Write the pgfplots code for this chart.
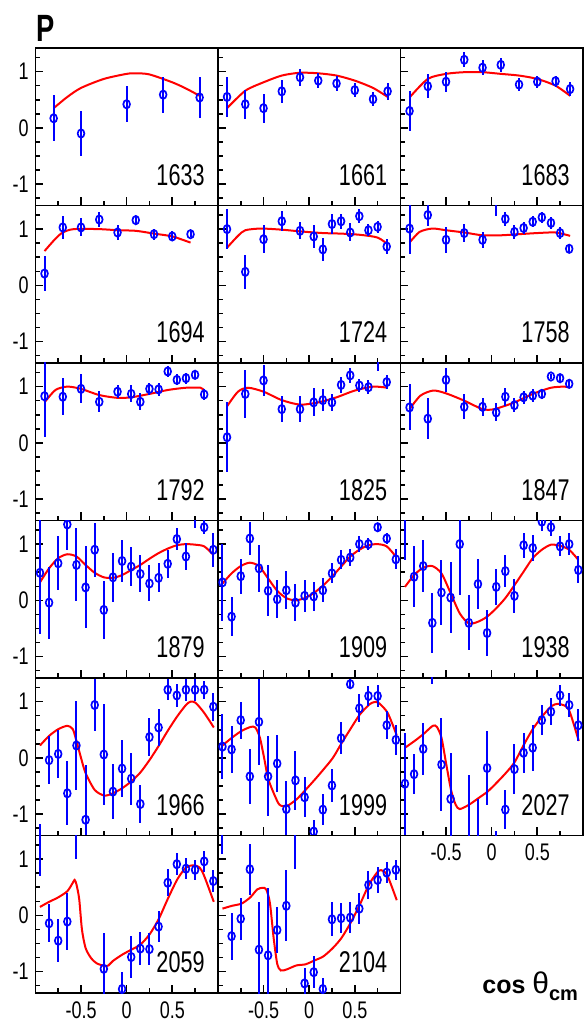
\documentclass[border=0pt]{standalone}
\usepackage{fontspec}
\setmainfont{Liberation Sans}[FakeStretch=0.72]
\newfontfamily\labfont{Liberation Sans}
\newfontfamily\tickfont{Liberation Sans}[FakeStretch=0.75]
\usepackage{pgfplots}
\pgfplotsset{compat=1.18}
\pgfplotsset{
  panel/.style={
    at={#1}, anchor=south west, scale only axis, width=91.25pt, height=78.75pt,
    xmin=-1, xmax=1, ymin=-1.38, ymax=1.42,
    axis line style={line width=0.8pt},
    every tick/.style={line width=0.8pt, black},
    tick align=inside, xtick pos=left, ytick pos=left,
    xtick={-0.5,0,0.5}, minor xtick={-0.75,-0.25,0.25,0.75},
    ytick={-1,0,1}, minor ytick={-1.25,-0.75,-0.5,-0.25,0.25,0.5,0.75,1.25},
    major tick length=4pt, minor tick length=2.4pt,
    xticklabels={}, yticklabels={},
    clip marker paths=true,
    ticklabel style={font=\tickfont\fontsize{12}{12}\selectfont},
    yticklabel style={anchor=east, inner sep=0pt, xshift=-3.2pt},
    xticklabel style={anchor=north, inner sep=0pt, yshift=-4pt},
  },
  ylab/.style={yticklabels={-1,0,1}},
  xlab/.style={xticklabels={-0.5,0,0.5}},
  dat/.style={only marks, blue, mark=o, mark size=2.1pt,
    mark options={solid, fill=white, line width=0.85pt, xscale=0.8},
    error bars/.cd, y dir=both, y explicit, error mark=none,
    error bar style={line width=1pt, blue}},
  fit/.style={red, line width=1pt, smooth, tension=0.45, no marks},
}
\newcommand{\lab}[1]{\node[anchor=base east, inner sep=0pt, font=\fontsize{15}{15}\selectfont] at (rel axis cs:0.929,0.127) {#1};}
\begin{document}
\begin{tikzpicture}
% ---------------- row 1
\begin{axis}[panel={(17.7pt,409.25pt)}, ylab]
\addplot[fit] coordinates {(-0.8,0.35)(-0.65,0.55)(-0.5,0.71)(-0.25,0.87)(0,0.96)(0.1,0.97)(0.25,0.95)(0.5,0.81)(0.65,0.70)(0.8,0.57)};
\addplot[dat] table[x=x,y=y,y error=e,row sep=\\] {x y e\\ -0.8 0.17 0.41\\ -0.5 -0.10 0.40\\ 0.0 0.42 0.32\\ 0.4 0.59 0.32\\ 0.8 0.54 0.36\\};
\lab{1633}
\end{axis}
\begin{axis}[panel={(108.95pt,409.25pt)}]
\addplot[fit] coordinates {(-0.9,0.35)(-0.7,0.66)(-0.5,0.81)(-0.3,0.93)(-0.1,0.98)(0.1,0.97)(0.3,0.93)(0.5,0.84)(0.7,0.71)(0.86,0.55)};
\addplot[dat] table[x=x,y=y,y error=e,row sep=\\] {x y e\\ -0.9 0.55 0.36\\ -0.7 0.42 0.26\\ -0.5 0.35 0.26\\ -0.3 0.65 0.20\\ -0.1 0.90 0.15\\ 0.1 0.84 0.14\\ 0.3 0.79 0.14\\ 0.5 0.67 0.12\\ 0.7 0.51 0.12\\ 0.86 0.65 0.15\\};
\lab{1661}
\end{axis}
\begin{axis}[panel={(200.2pt,409.25pt)}]
\addplot[fit] coordinates {(-0.9,0.54)(-0.7,0.87)(-0.5,0.96)(-0.3,0.99)(-0.1,0.99)(0.1,0.96)(0.3,0.93)(0.5,0.87)(0.7,0.75)(0.86,0.57)};
\addplot[dat] table[x=x,y=y,y error=e,row sep=\\] {x y e\\ -0.9 0.30 0.35\\ -0.7 0.74 0.21\\ -0.5 0.82 0.18\\ -0.3 1.21 0.13\\ -0.1 1.07 0.13\\ 0.1 1.12 0.12\\ 0.3 0.77 0.12\\ 0.5 0.82 0.11\\ 0.7 0.83 0.10\\ 0.86 0.69 0.13\\};
\lab{1683}
\end{axis}
% ---------------- row 2
\begin{axis}[panel={(17.7pt,330.5pt)}, ylab]
\addplot[fit] coordinates {(-0.9,0.61)(-0.78,0.83)(-0.7,0.94)(-0.58,1.0)(-0.3,1.0)(-0.1,0.98)(0.1,0.97)(0.3,0.92)(0.5,0.87)(0.7,0.76)};
\addplot[dat] table[x=x,y=y,y error=e,row sep=\\] {x y e\\ -0.9 0.21 0.31\\ -0.7 1.03 0.20\\ -0.5 1.03 0.16\\ -0.3 1.17 0.13\\ -0.1 0.94 0.13\\ 0.1 1.16 0.08\\ 0.3 0.91 0.10\\ 0.5 0.87 0.09\\ 0.7 0.91 0.05\\};
\lab{1694}
\end{axis}
\begin{axis}[panel={(108.95pt,330.5pt)}]
\addplot[fit] coordinates {(-0.9,0.67)(-0.78,0.88)(-0.7,0.98)(-0.53,1.01)(-0.3,0.99)(-0.1,0.96)(0.15,0.93)(0.35,0.92)(0.55,0.90)(0.75,0.85)(0.86,0.73)};
\addplot[dat] table[x=x,y=y,y error=e,row sep=\\] {x y e\\ -0.9 1.00 0.35\\ -0.7 0.24 0.30\\ -0.5 0.82 0.25\\ -0.3 1.14 0.18\\ -0.1 0.97 0.15\\ 0.05 0.87 0.20\\ 0.15 0.64 0.21\\ 0.25 1.09 0.18\\ 0.35 1.14 0.13\\ 0.45 0.94 0.16\\ 0.55 1.23 0.13\\ 0.65 0.98 0.11\\ 0.75 1.04 0.11\\ 0.85 0.69 0.13\\};
\lab{1724}
\end{axis}
\begin{axis}[panel={(200.2pt,330.5pt)}]
\addplot[fit] coordinates {(-0.9,0.76)(-0.79,0.95)(-0.65,1.01)(-0.5,0.98)(-0.3,0.94)(-0.1,0.89)(0.1,0.89)(0.3,0.91)(0.5,0.93)(0.7,0.94)(0.86,0.88)};
\addplot[dat] table[x=x,y=y,y error=e,row sep=\\] {x y e\\ -0.9 1.01 0.45\\ -0.7 1.25 0.20\\ -0.5 0.81 0.23\\ -0.3 0.93 0.16\\ -0.1 0.81 0.14\\ 0.05 1.45 0.22\\ 0.15 1.18 0.13\\ 0.25 0.95 0.13\\ 0.35 1.02 0.10\\ 0.45 1.13 0.10\\ 0.55 1.21 0.10\\ 0.65 1.11 0.10\\ 0.75 0.93 0.10\\ 0.85 0.65 0.08\\};
\lab{1758}
\end{axis}
% ---------------- row 3
\begin{axis}[panel={(17.7pt,251.75pt)}, ylab]
\addplot[fit] coordinates {(-0.9,0.72)(-0.78,0.94)(-0.65,1.0)(-0.5,0.96)(-0.3,0.85)(-0.1,0.80)(0.05,0.81)(0.25,0.87)(0.45,0.94)(0.65,0.98)(0.81,0.98)(0.85,0.93)};
\addplot[dat] table[x=x,y=y,y error=e,row sep=\\] {x y e\\ -0.9 0.83 0.72\\ -0.7 0.82 0.33\\ -0.5 0.96 0.26\\ -0.3 0.73 0.19\\ -0.1 0.91 0.12\\ 0.05 0.87 0.15\\ 0.15 0.73 0.15\\ 0.25 0.96 0.11\\ 0.35 0.95 0.12\\ 0.45 1.27 0.10\\ 0.55 1.12 0.10\\ 0.65 1.15 0.10\\ 0.75 1.21 0.08\\ 0.85 0.86 0.10\\};
\lab{1792}
\end{axis}
\begin{axis}[panel={(108.95pt,251.75pt)}]
\addplot[fit] coordinates {(-0.9,0.65)(-0.78,0.91)(-0.67,0.98)(-0.5,0.91)(-0.3,0.76)(-0.1,0.68)(0.1,0.72)(0.3,0.81)(0.5,0.93)(0.7,1.0)(0.86,0.98)};
\addplot[dat] table[x=x,y=y,y error=e,row sep=\\] {x y e\\ -0.9 0.10 0.62\\ -0.7 0.87 0.43\\ -0.5 1.11 0.28\\ -0.3 0.60 0.23\\ -0.1 0.60 0.23\\ 0.05 0.72 0.25\\ 0.15 0.76 0.19\\ 0.25 0.72 0.15\\ 0.35 1.03 0.14\\ 0.45 1.20 0.13\\ 0.55 1.02 0.12\\ 0.65 0.99 0.13\\ 0.75 1.45 0.18\\ 0.85 1.08 0.13\\};
\lab{1825}
\end{axis}
\begin{axis}[panel={(200.2pt,251.75pt)}]
\addplot[fit] coordinates {(-0.9,0.60)(-0.78,0.84)(-0.64,0.93)(-0.5,0.88)(-0.3,0.75)(-0.1,0.60)(0.03,0.60)(0.25,0.72)(0.45,0.87)(0.65,0.98)(0.8,1.0)(0.86,0.98)};
\addplot[dat] table[x=x,y=y,y error=e,row sep=\\] {x y e\\ -0.9 0.63 0.41\\ -0.7 0.43 0.36\\ -0.5 1.12 0.21\\ -0.3 0.64 0.22\\ -0.1 0.64 0.16\\ 0.05 0.54 0.16\\ 0.15 0.82 0.16\\ 0.25 0.67 0.13\\ 0.35 0.81 0.12\\ 0.45 0.84 0.12\\ 0.55 0.87 0.09\\ 0.65 1.18 0.05\\ 0.75 1.15 0.06\\ 0.85 1.05 0.08\\};
\lab{1847}
\end{axis}
% ---------------- row 4
\begin{axis}[panel={(17.7pt,173pt)}, ylab]
\addplot[fit] coordinates {(-0.95,0.32)(-0.85,0.57)(-0.75,0.75)(-0.65,0.82)(-0.55,0.78)(-0.45,0.63)(-0.35,0.49)(-0.25,0.41)(-0.15,0.40)(-0.05,0.45)(0.05,0.54)(0.15,0.63)(0.25,0.74)(0.35,0.84)(0.45,0.92)(0.55,0.98)(0.65,1.0)(0.75,0.99)(0.85,0.96)(0.95,0.81)};
\addplot[dat] table[x=x,y=y,y error=e,row sep=\\] {x y e\\ -0.95 0.49 1.09\\ -0.85 -0.04 0.64\\ -0.75 0.66 0.48\\ -0.65 1.35 0.45\\ -0.55 0.63 0.65\\ -0.45 0.23 0.73\\ -0.35 0.90 0.48\\ -0.25 -0.17 0.51\\ -0.15 0.41 0.44\\ -0.05 0.70 0.37\\ 0.05 0.60 0.34\\ 0.15 0.47 0.33\\ 0.25 0.30 0.32\\ 0.35 0.40 0.26\\ 0.45 0.65 0.25\\ 0.55 1.09 0.20\\ 0.65 0.78 0.24\\ 0.75 1.45 0.16\\ 0.85 1.30 0.12\\ 0.95 0.90 0.30\\};
\lab{1879}
\end{axis}
\begin{axis}[panel={(108.95pt,173pt)}]
\addplot[fit] coordinates {(-0.95,0.30)(-0.85,0.48)(-0.75,0.61)(-0.65,0.67)(-0.55,0.61)(-0.45,0.39)(-0.35,0.17)(-0.25,0.04)(-0.15,0.0)(-0.05,0.04)(0.05,0.13)(0.15,0.26)(0.25,0.42)(0.35,0.60)(0.45,0.78)(0.55,0.90)(0.65,0.98)(0.75,1.0)(0.85,0.96)(0.95,0.78)};
\addplot[dat] table[x=x,y=y,y error=e,row sep=\\] {x y e\\ -0.95 0.32 0.68\\ -0.85 -0.29 0.35\\ -0.75 0.43 0.31\\ -0.65 1.10 0.30\\ -0.55 0.57 0.42\\ -0.45 0.17 0.45\\ -0.35 0.02 0.34\\ -0.25 0.18 0.34\\ -0.15 -0.04 0.33\\ -0.05 0.08 0.29\\ 0.05 0.07 0.26\\ 0.15 0.18 0.21\\ 0.25 0.48 0.18\\ 0.35 0.72 0.17\\ 0.45 0.76 0.15\\ 0.55 1.00 0.14\\ 0.65 1.00 0.10\\ 0.75 1.30 0.08\\ 0.85 1.10 0.09\\ 0.95 0.73 0.18\\};
\lab{1909}
\end{axis}
\begin{axis}[panel={(200.2pt,173pt)}]
\addplot[fit] coordinates {(-0.95,0.24)(-0.85,0.45)(-0.75,0.58)(-0.65,0.61)(-0.55,0.48)(-0.45,0.13)(-0.35,-0.23)(-0.25,-0.41)(-0.15,-0.38)(-0.05,-0.29)(0.05,-0.14)(0.15,0.04)(0.25,0.27)(0.35,0.51)(0.45,0.75)(0.55,0.90)(0.65,0.99)(0.75,0.97)(0.85,0.90)(0.95,0.72)};
\addplot[dat] table[x=x,y=y,y error=e,row sep=\\] {x y e\\ -0.95 1.50 0.79\\ -0.85 0.42 0.54\\ -0.75 0.61 0.46\\ -0.65 -0.40 0.53\\ -0.55 0.14 0.58\\ -0.45 0.05 0.63\\ -0.35 1.00 0.90\\ -0.25 -0.40 0.49\\ -0.15 0.29 0.45\\ -0.05 -0.58 0.41\\ 0.05 0.24 0.32\\ 0.15 0.52 0.29\\ 0.25 0.08 0.30\\ 0.35 0.98 0.22\\ 0.45 0.93 0.23\\ 0.55 1.40 0.17\\ 0.65 1.30 0.15\\ 0.75 0.96 0.18\\ 0.85 1.00 0.19\\ 0.95 0.54 0.24\\};
\lab{1938}
\end{axis}
% ---------------- row 5
\begin{axis}[panel={(17.7pt,94.25pt)}, ylab]
\addplot[fit] coordinates {(-0.95,0.22)(-0.85,0.39)(-0.75,0.51)(-0.65,0.57)(-0.59,0.51)(-0.55,0.30)(-0.50,0.0)(-0.45,-0.27)(-0.35,-0.57)(-0.245,-0.67)(-0.15,-0.63)(-0.05,-0.54)(0.05,-0.42)(0.15,-0.26)(0.25,-0.04)(0.35,0.21)(0.45,0.48)(0.555,0.74)(0.65,0.94)(0.70,1.0)(0.755,0.98)(0.85,0.80)(0.955,0.54)};
\addplot[dat] table[x=x,y=y,y error=e,row sep=\\] {x y e\\ -0.95 -1.60 0.42\\ -0.85 -0.04 0.43\\ -0.75 0.07 0.42\\ -0.65 -0.63 0.57\\ -0.55 0.22 0.79\\ -0.45 -1.10 0.98\\ -0.35 0.94 0.46\\ -0.25 0.06 0.89\\ -0.15 -0.60 0.49\\ -0.05 -0.19 0.51\\ 0.05 -0.37 0.46\\ 0.15 -0.82 0.33\\ 0.25 0.37 0.34\\ 0.35 0.54 0.33\\ 0.45 1.21 0.19\\ 0.55 1.11 0.20\\ 0.65 1.21 0.20\\ 0.75 1.21 0.20\\ 0.85 1.21 0.16\\ 0.95 0.91 0.25\\};
\lab{1966}
\end{axis}
\begin{axis}[panel={(108.95pt,94.25pt)}]
\addplot[fit] coordinates {(-0.95,0.22)(-0.845,0.36)(-0.74,0.48)(-0.64,0.55)(-0.59,0.54)(-0.54,0.36)(-0.49,-0.03)(-0.445,-0.39)(-0.34,-0.80)(-0.285,-0.86)(-0.245,-0.86)(-0.14,-0.74)(-0.04,-0.57)(0.06,-0.39)(0.155,-0.21)(0.26,0.0)(0.355,0.26)(0.455,0.52)(0.555,0.77)(0.66,0.95)(0.71,0.99)(0.76,0.98)(0.86,0.80)(0.96,0.40)};
\addplot[dat] table[x=x,y=y,y error=e,row sep=\\] {x y e\\ -0.95 0.20 0.58\\ -0.85 0.15 0.42\\ -0.75 0.67 0.33\\ -0.65 -0.33 0.49\\ -0.55 0.64 0.76\\ -0.45 -0.33 0.71\\ -0.35 -0.10 0.51\\ -0.25 -0.91 0.50\\ -0.15 -0.40 0.52\\ -0.05 -0.70 0.36\\ 0.05 -1.31 0.20\\ 0.15 -0.92 0.27\\ 0.25 -0.49 0.30\\ 0.35 0.35 0.28\\ 0.45 1.31 0.09\\ 0.55 0.88 0.25\\ 0.65 1.10 0.18\\ 0.75 1.10 0.19\\ 0.85 0.58 0.25\\ 0.95 0.32 0.27\\};
\lab{1999}
\end{axis}
\begin{axis}[panel={(200.2pt,94.25pt)}, xlab]
\addplot[fit] coordinates {(-0.95,0.18)(-0.845,0.30)(-0.75,0.42)(-0.645,0.57)(-0.60,0.55)(-0.55,0.36)(-0.50,-0.09)(-0.445,-0.57)(-0.395,-0.83)(-0.35,-0.91)(-0.245,-0.83)(-0.14,-0.71)(-0.045,-0.60)(0.05,-0.45)(0.155,-0.27)(0.25,-0.08)(0.355,0.24)(0.45,0.51)(0.555,0.74)(0.655,0.92)(0.725,0.96)(0.81,0.92)(0.86,0.80)(0.955,0.30)};
\addplot[dat] table[x=x,y=y,y error=e,row sep=\\] {x y e\\ -0.95 -0.46 0.91\\ -0.85 -0.29 0.35\\ -0.75 0.16 0.46\\ -0.65 1.55 0.24\\ -0.55 -0.12 0.83\\ -0.45 -0.73 0.82\\ -0.25 -1.60 1.30\\ -0.15 -1.60 0.87\\ -0.05 -0.18 0.65\\ 0.05 -1.60 0.30\\ 0.15 -0.92 0.35\\ 0.25 -0.20 0.44\\ 0.35 0.09 0.36\\ 0.45 0.18 0.41\\ 0.55 0.67 0.27\\ 0.65 0.82 0.24\\ 0.75 1.11 0.19\\ 0.85 0.94 0.22\\ 0.95 0.58 0.28\\};
\lab{2027}
\end{axis}
% ---------------- row 6
\begin{axis}[panel={(17.7pt,15.5pt)}, ylab, xlab]
\addplot[fit] coordinates {(-0.95,0.15)(-0.85,0.24)(-0.75,0.32)(-0.65,0.43)(-0.59,0.58)(-0.57,0.63)(-0.55,0.55)(-0.52,0.29)(-0.49,-0.25)(-0.45,-0.58)(-0.39,-0.76)(-0.33,-0.85)(-0.245,-0.90)(-0.20,-0.89)(-0.15,-0.81)(-0.05,-0.70)(0.05,-0.61)(0.15,-0.52)(0.25,-0.34)(0.35,-0.07)(0.45,0.29)(0.555,0.64)(0.65,0.85)(0.735,0.89)(0.80,0.85)(0.85,0.70)(0.955,0.24)};
\addplot[dat] table[x=x,y=y,y error=e,row sep=\\] {x y e\\ -0.95 1.60 0.90\\ -0.85 -0.14 0.34\\ -0.75 -0.45 0.38\\ -0.65 -0.11 0.51\\ -0.55 1.60 0.60\\ -0.25 -0.95 0.64\\ -0.05 -1.31 0.30\\ 0.05 -0.74 0.37\\ 0.15 -0.59 0.30\\ 0.25 -0.60 0.29\\ 0.35 -0.20 0.28\\ 0.45 0.58 0.24\\ 0.55 0.91 0.20\\ 0.65 0.83 0.19\\ 0.75 0.81 0.18\\ 0.85 0.96 0.19\\ 0.95 0.61 0.19\\};
\lab{2059}
\end{axis}
\begin{axis}[panel={(108.95pt,15.5pt)}, xlab]
\addplot[fit] coordinates {(-0.95,0.12)(-0.845,0.17)(-0.74,0.21)(-0.645,0.32)(-0.57,0.46)(-0.51,0.49)(-0.47,0.46)(-0.43,0.22)(-0.39,-0.39)(-0.35,-0.86)(-0.31,-0.98)(-0.245,-0.96)(-0.14,-0.89)(-0.04,-0.87)(0.06,-0.80)(0.155,-0.73)(0.26,-0.58)(0.355,-0.40)(0.455,-0.13)(0.555,0.19)(0.66,0.56)(0.76,0.79)(0.81,0.79)(0.86,0.70)(0.96,0.27)};
\addplot[dat] table[x=x,y=y,y error=e,row sep=\\] {x y e\\ -0.95 1.50 0.41\\ -0.85 -0.37 0.42\\ -0.75 -0.06 0.37\\ -0.65 0.82 0.45\\ -0.55 -0.61 0.84\\ -0.45 -0.71 1.20\\ -0.35 -0.26 0.41\\ -0.25 0.17 0.63\\ -0.15 1.50 0.68\\ -0.05 -1.21 0.28\\ 0.05 -1.01 0.28\\ 0.15 -1.31 0.20\\ 0.25 -0.07 0.30\\ 0.35 -0.05 0.27\\ 0.45 -0.04 0.27\\ 0.55 0.12 0.27\\ 0.65 0.54 0.25\\ 0.75 0.63 0.23\\ 0.85 0.76 0.19\\ 0.95 0.81 0.18\\};
\lab{2104}
\end{axis}
% ---------------- titles
\node[anchor=base west, inner sep=0pt, font=\bfseries\fontsize{19}{19}\selectfont] at (18pt,491pt) {P};
\node[anchor=base west, inner sep=0pt] at (241pt,15.4pt) {\labfont\bfseries\fontsize{12.5}{12.5}\selectfont cos {\mdseries\fontsize{15}{15}\selectfont θ}\raisebox{-3.5pt}{\fontsize{10}{10}\selectfont cm}};
\pgfresetboundingbox
\path[use as bounding box] (0,0) rectangle (292pt,512pt);
\end{tikzpicture}
\end{document}
